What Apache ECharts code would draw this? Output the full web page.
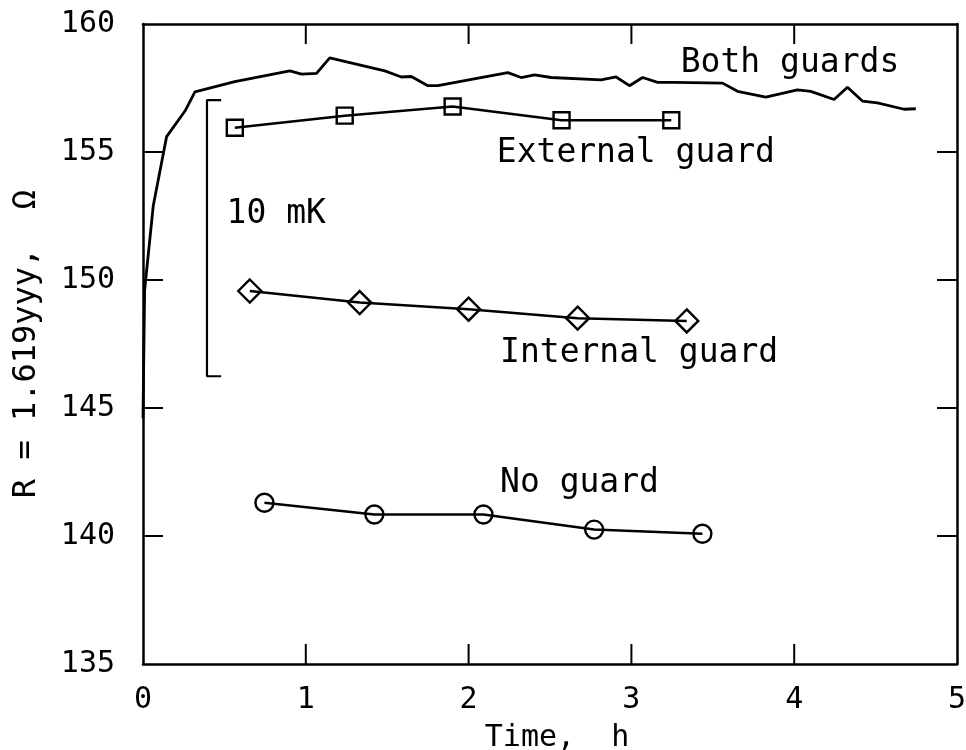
<!DOCTYPE html>
<html>
<head>
<meta charset="utf-8">
<script src="https://cdn.jsdelivr.net/npm/echarts@6/dist/echarts.min.js"></script>
<style>
  html, body { margin: 0; padding: 0; background: #fff; }
  #chart { width: 966px; height: 750px; }
</style>
</head>
<body>
<div id="chart"></div>
<script>
// data
let bothTime = [0, 0.01, 0.063, 0.145, 0.258, 0.319, 0.564, 0.902, 0.974, 1.066, 1.147, 1.485, 1.587, 1.648, 1.750, 1.811,
    2.241, 2.323, 2.405, 2.507, 2.814, 2.906, 2.988, 3.069, 3.161, 3.264, 3.560, 3.652, 3.826, 4.020, 4.102, 4.245,
    4.327, 4.419, 4.511, 4.675, 4.747];
let bothR = [144.6, 149.6, 152.9, 155.6, 156.6, 157.35, 157.75, 158.17, 158.04, 158.07, 158.68, 158.17, 157.93, 157.95, 157.59, 157.59,
    158.10, 157.91, 158.01, 157.91, 157.82, 157.93, 157.59, 157.91, 157.72, 157.72, 157.69, 157.37, 157.14, 157.43, 157.37, 157.05,
    157.53, 156.99, 156.92, 156.67, 156.69];

let extTime = [0.564, 1.239, 1.902, 2.571, 3.245];
let extR = [155.95, 156.42, 156.78, 156.24, 156.24];

let intTime = [0.656, 1.331, 2.0, 2.67, 3.34];
let intR = [149.57, 149.12, 148.86, 148.51, 148.40];

let noTime = [0.746, 1.421, 2.091, 2.771, 3.436];
let noR = [141.30, 140.84, 140.84, 140.25, 140.09];

// 10 mK scale bar
let barTime = [0.48, 0.393, 0.393, 0.48];
let barR = [157.03, 157.03, 146.24, 146.24];

let xTicks = [0, 1, 2, 3, 4, 5];
let yTicks = [135, 140, 145, 150, 155, 160];

let notes = [
    { name: 'Both guards', value: [3.30, 158.45] },
    { name: 'External guard', value: [2.17, 154.93] },
    { name: 'Internal guard', value: [2.19, 147.12] },
    { name: 'No guard', value: [2.19, 142.05] },
    { name: '10 mK', value: [0.51, 152.55] }
];

function pairs(xs, ys) {
    return xs.map(function (x, i) { return [x, ys[i]]; });
}

let font = 'DejaVu Sans Mono';
let black = '#000';
let xMin = xTicks[0], xMax = xTicks[xTicks.length - 1];
let yMin = yTicks[0], yMax = yTicks[yTicks.length - 1];
let tickLen = 20;

function frameAxis(extra) {
    return Object.assign({
        type: 'value',
        axisLine: { show: true, onZero: false, lineStyle: { color: black, width: 2.5 } },
        axisTick: { show: false },
        splitLine: { show: false }
    }, extra);
}

function markerSeries(name, data, symbol, size) {
    return {
        name: name,
        type: 'line',
        data: data,
        symbol: symbol,
        symbolSize: size,
        showAllSymbol: true,
        lineStyle: { color: black, width: 2.5 },
        itemStyle: { color: 'transparent', borderColor: black, borderWidth: 2.4 },
        emphasis: { disabled: true },
        animation: false,
        z: 3
    };
}

let myChart = echarts.init(document.getElementById('chart'), null, { renderer: 'canvas' });
myChart.setOption({
    backgroundColor: '#fff',
    animation: false,
    grid: { left: 143, right: 9, top: 24, bottom: 86, outerBoundsMode: 'none', containLabel: false },
    xAxis: [
        frameAxis({
            min: xMin, max: xMax, interval: 1,
            position: 'bottom',
            name: 'Time,  h',
            nameLocation: 'middle',
            nameGap: 59,
            nameTextStyle: { fontFamily: font, fontSize: 30, color: black, padding: [0, 0, 0, 14] },
            axisLabel: { fontFamily: font, fontSize: 30, color: black, margin: 21 }
        }),
        frameAxis({
            min: xMin, max: xMax, interval: 1,
            position: 'top',
            axisLabel: { show: false }
        })
    ],
    yAxis: [
        frameAxis({
            min: yMin, max: yMax, interval: 5,
            position: 'left',
            name: 'R = 1.619yyy,  \u03A9',
            nameLocation: 'middle',
            nameRotate: 90,
            nameGap: 100,
            nameTextStyle: { fontFamily: font, fontSize: 32, color: black },
            axisLabel: { fontFamily: font, fontSize: 30, color: black, margin: 28 }
        }),
        frameAxis({
            min: yMin, max: yMax, interval: 5,
            position: 'right',
            axisLabel: { show: false }
        })
    ],
    series: [
        {
            name: 'Both guards',
            type: 'line',
            data: pairs(bothTime, bothR),
            showSymbol: false,
            symbol: 'none',
            lineStyle: { color: black, width: 2.8 },
            emphasis: { disabled: true },
            z: 2
        },
        markerSeries('External guard', pairs(extTime, extR), 'rect', 16),
        markerSeries('Internal guard', pairs(intTime, intR), 'diamond', 23),
        markerSeries('No guard', pairs(noTime, noR), 'circle', 18),
        {
            name: 'scale bar',
            type: 'line',
            data: pairs(barTime, barR),
            symbol: 'none',
            lineStyle: { color: black, width: 2.2 },
            emphasis: { disabled: true },
            z: 2
        },
        {
            name: 'notes',
            type: 'scatter',
            data: notes,
            symbolSize: 1,
            itemStyle: { color: 'transparent', opacity: 1 },
            label: {
                show: true,
                position: 'right',
                distance: 0,
                formatter: '{b}',
                fontFamily: font,
                fontSize: 33,
                color: black,
                opacity: 1
            },
            emphasis: { disabled: true },
            silent: true,
            z: 4
        }
    ]
});

// inward ticks on all four sides, placed from the tick values
function px(pt) {
    return myChart.convertToPixel({ xAxisIndex: 0, yAxisIndex: 0 }, pt);
}
let corner0 = px([xMin, yMin]);
let corner1 = px([xMax, yMax]);
let ticks = [];
function tick(x1, y1, x2, y2) {
    ticks.push({
        type: 'line',
        silent: true,
        z: 10,
        shape: { x1: x1, y1: y1, x2: x2, y2: y2 },
        style: { stroke: black, lineWidth: 2 }
    });
}
yTicks.slice(1, -1).forEach(function (v) {
    let py = px([xMin, v])[1];
    tick(corner0[0], py, corner0[0] + tickLen, py);
    tick(corner1[0], py, corner1[0] - tickLen, py);
});
xTicks.slice(1, -1).forEach(function (t) {
    let p = px([t, yMin])[0];
    tick(p, corner0[1], p, corner0[1] - tickLen);
    tick(p, corner1[1], p, corner1[1] + tickLen);
});
myChart.setOption({ graphic: ticks });
</script>
</body>
</html>
